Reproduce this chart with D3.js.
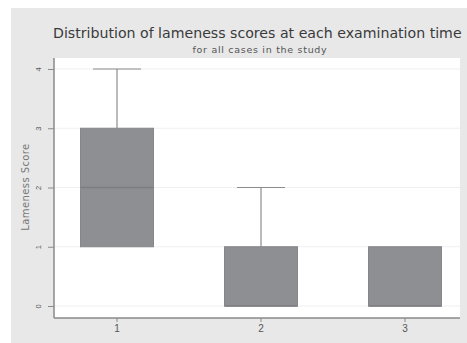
<!DOCTYPE html>
<html>
<head>
<meta charset="utf-8">
<script src="https://cdn.jsdelivr.net/npm/d3@7"></script>
<style>
  html, body { margin: 0; padding: 0; background: #fff; }
  svg { display: block; font-family: "DejaVu Sans", "Liberation Sans", Arial, sans-serif; }
</style>
</head>
<body>
<svg id="chart" width="467" height="343"></svg>
<script>
// Examination times and box-plot summaries of lameness scores
const categories = ["1", "2", "3"];
const whiskerLow = [1, 0, 0];
const q1 = [1, 0, 0];
const median = [2, 0, 0];
const q3 = [3, 1, 1];
const whiskerHigh = [4, 2, 1];
const yTicks = [0, 1, 2, 3, 4];

const title = "Distribution of lameness scores at each examination time";
const subtitle = "for all cases in the study";
const yTitle = "Lameness Score";

const W = 467, H = 343;
const plot = { left: 54, right: 460, top: 58, bottom: 318 };

const svg = d3.select("#chart");

// outer graph region
svg.append("rect").attr("x", 11).attr("y", 8)
  .attr("width", W - 11).attr("height", H - 8).attr("fill", "#e8e8e9");
// plot region
svg.append("rect").attr("x", plot.left).attr("y", plot.top)
  .attr("width", plot.right - plot.left).attr("height", plot.bottom - plot.top)
  .attr("fill", "#ffffff");

const x = d3.scaleBand().domain(categories)
  .range([45, 477]).paddingInner(0).paddingOuter(0);
const y = d3.scaleLinear().domain([0, 4]).range([306, 69]);

// grid lines
svg.append("g").selectAll("line").data(yTicks).join("line")
  .attr("x1", plot.left).attr("x2", plot.right)
  .attr("y1", d => y(d)).attr("y2", d => y(d))
  .attr("stroke", "#efefef").attr("stroke-width", 1);

const boxW = 73, capW = 48;
const cx = c => x(c) + x.bandwidth() / 2;
const whiskerColor = "#8c8c8e";

const g = svg.append("g");
categories.forEach((c, i) => {
  const xc = cx(c);
  // upper whisker
  if (whiskerHigh[i] > q3[i]) {
    g.append("line").attr("x1", xc).attr("x2", xc)
      .attr("y1", y(q3[i])).attr("y2", y(whiskerHigh[i]))
      .attr("stroke", whiskerColor).attr("stroke-width", 1.2);
    g.append("line").attr("x1", xc - capW / 2).attr("x2", xc + capW / 2)
      .attr("y1", y(whiskerHigh[i])).attr("y2", y(whiskerHigh[i]))
      .attr("stroke", whiskerColor).attr("stroke-width", 1.2);
  }
  // lower whisker
  if (whiskerLow[i] < q1[i]) {
    g.append("line").attr("x1", xc).attr("x2", xc)
      .attr("y1", y(q1[i])).attr("y2", y(whiskerLow[i]))
      .attr("stroke", whiskerColor).attr("stroke-width", 1.2);
    g.append("line").attr("x1", xc - capW / 2).attr("x2", xc + capW / 2)
      .attr("y1", y(whiskerLow[i])).attr("y2", y(whiskerLow[i]))
      .attr("stroke", whiskerColor).attr("stroke-width", 1.2);
  }
  // box
  g.append("rect").attr("x", xc - boxW / 2).attr("y", y(q3[i]))
    .attr("width", boxW).attr("height", y(q1[i]) - y(q3[i]))
    .attr("fill", "#8e8f93").attr("stroke", "#86878b").attr("stroke-width", 1);
  // median
  g.append("line").attr("x1", xc - boxW / 2).attr("x2", xc + boxW / 2)
    .attr("y1", y(median[i])).attr("y2", y(median[i]))
    .attr("stroke", "#7c7d81").attr("stroke-width", 1.5);
});

// y axis
const yAxis = svg.append("g").attr("transform", `translate(${plot.left},0)`)
  .call(d3.axisLeft(y).tickValues(yTicks).tickSize(6).tickFormat(d3.format("d")));
yAxis.select(".domain").attr("stroke", "#8a8a8a").attr("stroke-width", 1.5)
  .attr("d", `M0,${plot.top}V${plot.bottom}`);
yAxis.selectAll(".tick line").attr("stroke", "#8a8a8a");
yAxis.selectAll(".tick text")
  .attr("fill", "#555").attr("font-size", 7.5)
  .attr("text-anchor", "middle")
  .attr("transform", "rotate(-90)")
  .attr("x", 0).attr("y", -13).attr("dy", 0);

// x axis
const xAxis = svg.append("g").attr("transform", `translate(0,${plot.bottom})`)
  .call(d3.axisBottom(x).tickSize(4).tickPadding(3));
xAxis.select(".domain").attr("stroke", "#8a8a8a").attr("stroke-width", 1.5)
  .attr("d", `M${plot.left},0H${plot.right}`);
xAxis.selectAll(".tick line").attr("stroke", "#8a8a8a");
xAxis.selectAll(".tick text").attr("fill", "#555").attr("font-size", 10);

// axis title
svg.append("text").attr("transform", "translate(29,187) rotate(-90)")
  .attr("text-anchor", "middle").attr("font-size", 10).attr("letter-spacing", 0.4)
  .attr("fill", "#777").text(yTitle);

// titles
svg.append("text").attr("x", 53).attr("y", 38)
  .attr("font-size", 14.15).attr("fill", "#3a3a3a").text(title);
svg.append("text").attr("x", 260).attr("y", 53).attr("text-anchor", "middle")
  .attr("font-size", 9.5).attr("letter-spacing", 0.7)
  .attr("fill", "#555").text(subtitle);
</script>
</body>
</html>
